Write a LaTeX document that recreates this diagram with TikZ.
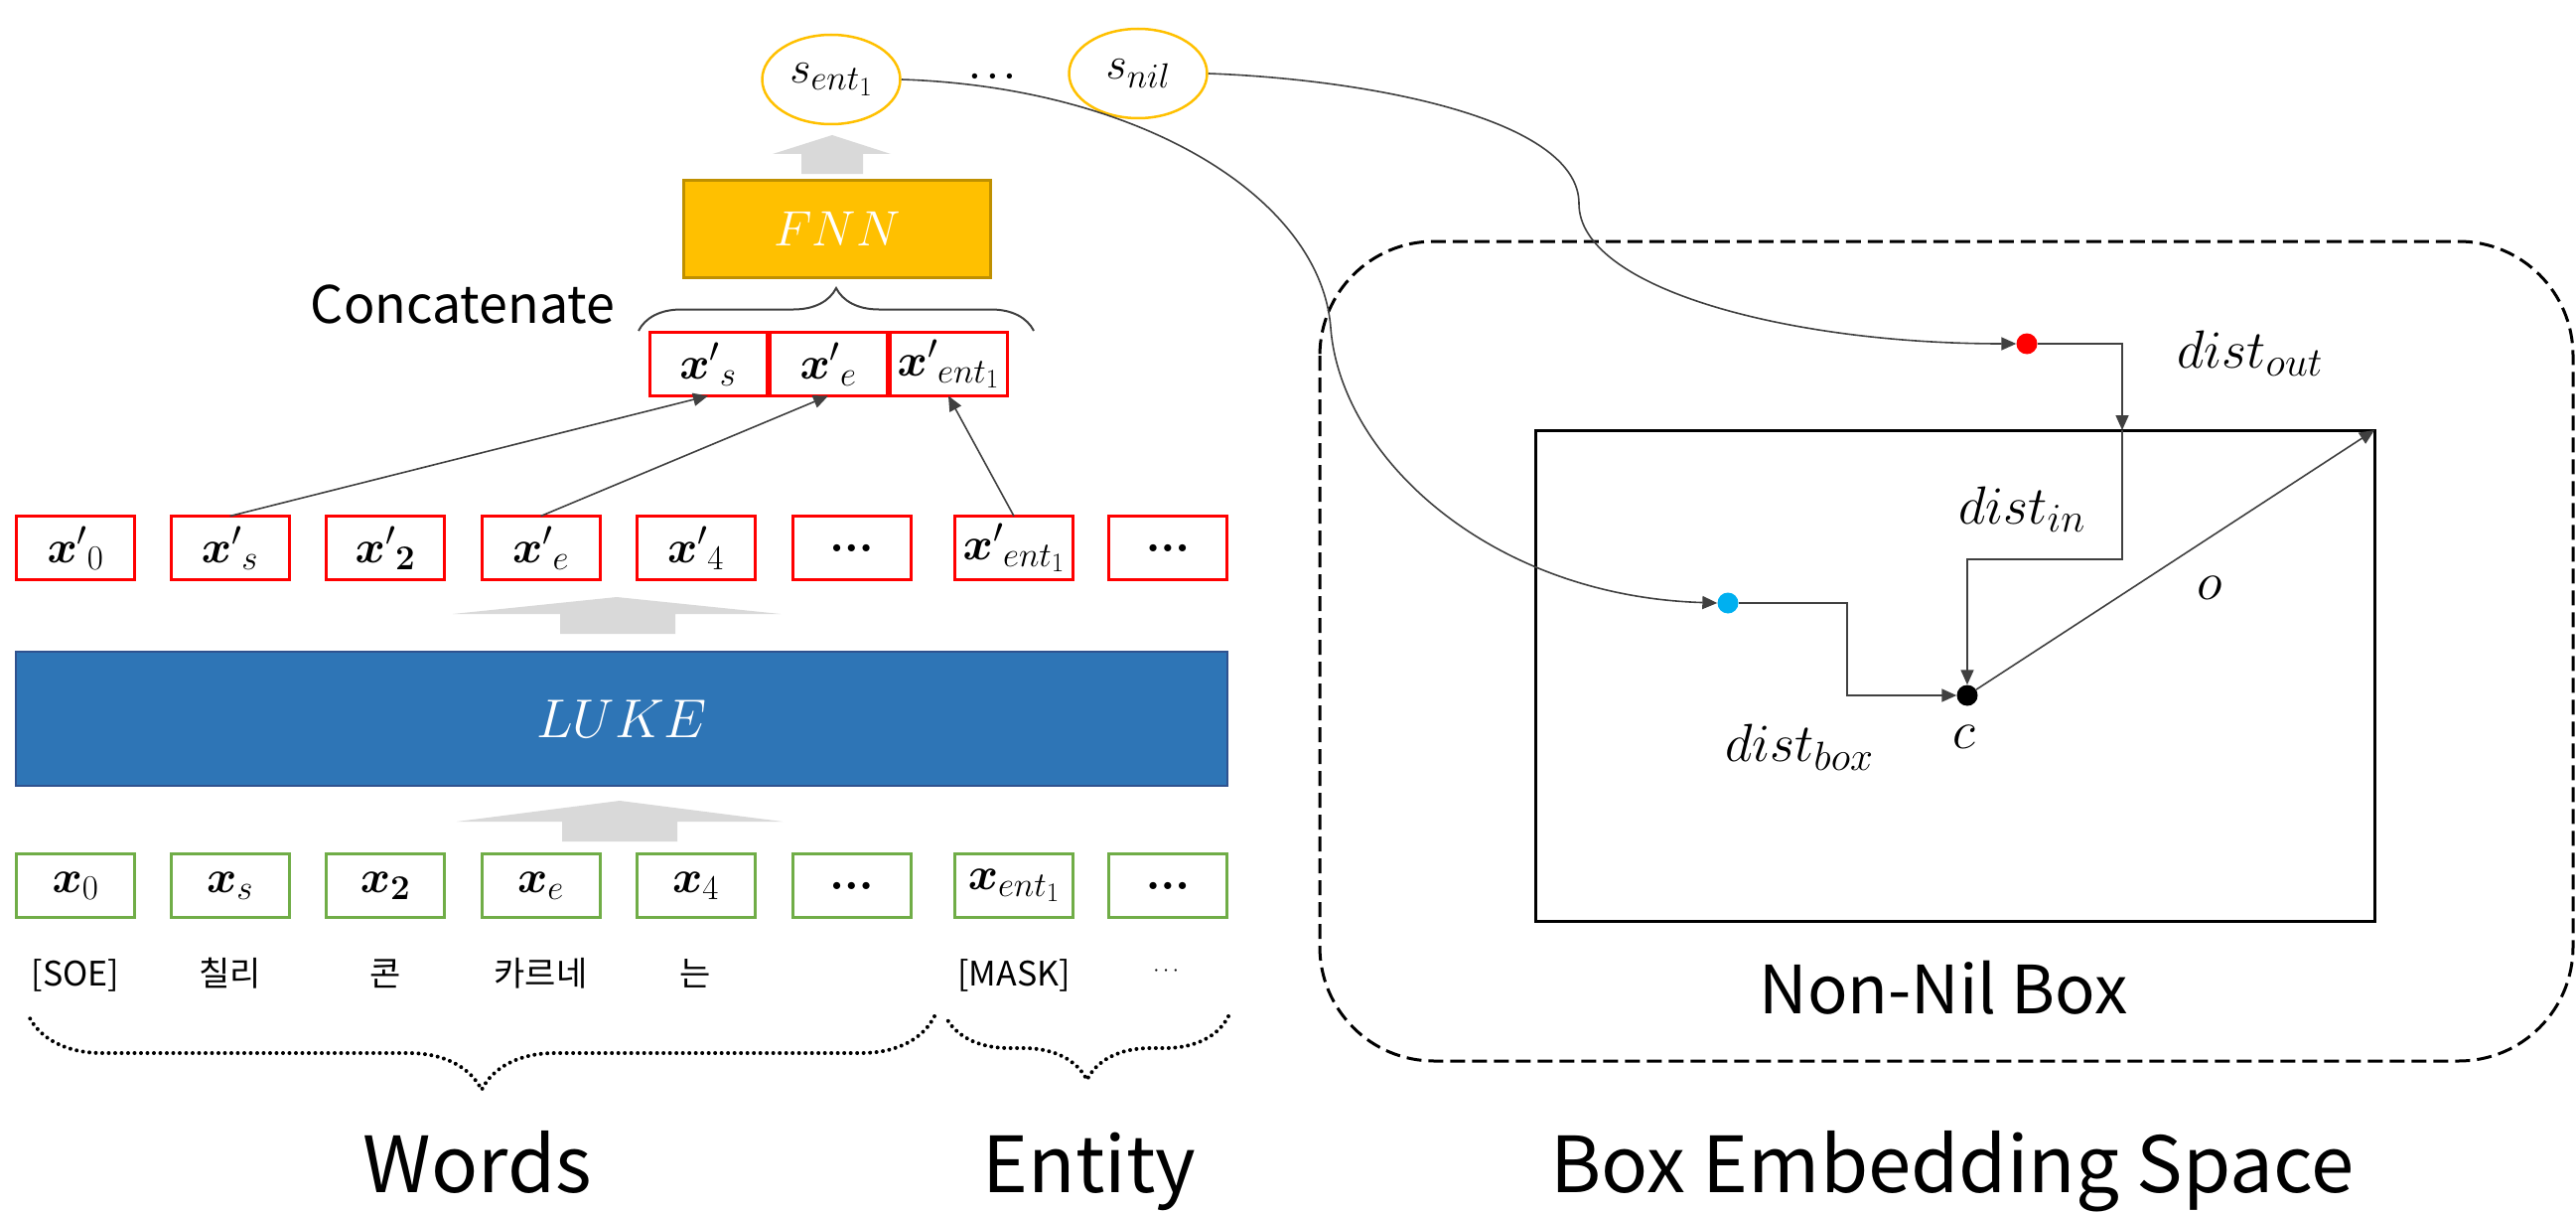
\RequirePackage{fix-cm}
\documentclass[tikz,border=0pt]{standalone}
\usepackage{amsmath}
\usepackage{bm}
\usepackage{fontspec}
\setmainfont{Noto Sans CJK KR}
\usetikzlibrary{arrows.meta,decorations.pathreplacing,shapes.geometric}

% larger script sizes for the token and distance labels
\DeclareMathSizes{46}{46}{35}{27}
\DeclareMathSizes{54}{54}{41}{31}

\definecolor{boxred}{HTML}{FF0000}
\definecolor{boxgreen}{HTML}{70AD47}
\definecolor{gold}{HTML}{FFC000}
\definecolor{golddark}{HTML}{BF9000}
\definecolor{lukeblue}{HTML}{2E75B6}
\definecolor{lukeedge}{HTML}{2F528F}
\definecolor{flowgray}{HTML}{D9D9D9}
\definecolor{linegray}{HTML}{404040}
\definecolor{dotblue}{HTML}{00B0F0}

\newcommand{\sizept}[1]{\fontsize{#1pt}{#1pt}\selectfont}

\begin{document}
\begin{tikzpicture}[x=1pt,y=-1pt,
  tok/.style={line width=3pt, minimum width=119pt, minimum height=64pt,
    inner sep=0pt, outer sep=0pt, font=\sizept{46}},
  outtok/.style={tok, draw=boxred},
  intok/.style={tok, draw=boxgreen},
  catcell/.style={draw=boxred, line width=3pt, minimum width=118pt,
    minimum height=64pt, inner sep=0pt, outer sep=0pt, font=\sizept{46}},
  score/.style={ellipse, draw=gold, line width=2.5pt, minimum width=139pt,
    minimum height=90pt, inner sep=0pt, font=\sizept{46}},
  tokword/.style={anchor=base, inner sep=0pt, font=\sizept{34}},
  bigcaption/.style={anchor=base, inner sep=0pt, font=\sizept{78}},
  conn/.style={draw=linegray, line width=1.6pt, -{Triangle[length=15pt,width=13pt]}},
  dotbrace/.style={decorate, line width=4pt, line cap=round,
    dash pattern=on 0pt off 6.5pt},
  mlabel/.style={inner sep=0pt, font=\sizept{54}},
  spot/.style={circle, inner sep=0pt, minimum size=21pt}
]
\useasboundingbox (0,0) rectangle (2594,1220);

% ---------- input tokens ----------
\node[intok] (i0)   at (76,891.5)   {$\bm{x}_0$};
\node[intok] (is)   at (231.5,891.5){$\bm{x}_s$};
\node[intok] (i2)   at (388,891.5)  {$\bm{x}_{\bm{2}}$};
\node[intok] (ie)   at (544.5,891.5){$\bm{x}_e$};
\node[intok] (i4)   at (700.5,891.5){$\bm{x}_4$};
\node[intok] (id1)  at (857.5,891.5){$\bm{...}$};
\node[intok] (ient) at (1021,891.5) {$\bm{x}_{ent_1}$};
\node[intok] (id2)  at (1176,891.5) {$\bm{...}$};

\node[tokword] (w0) at (76,992)   {[SOE]};
\node[tokword] (w1) at (231.5,992){칠리};
\node[tokword] (w2) at (388,992)  {콘};
\node[tokword] (w3) at (544.5,992){카르네};
\node[tokword] (w4) at (700.5,992){는};
\node[tokword] (w5) at (1021,992) {[MASK]};
\node[inner sep=0pt, font=\sizept{22}] (w6) at (1176,978) {$\cdots$};

% ---------- encoder ----------
\node[draw=lukeedge, fill=lukeblue, line width=2pt, minimum width=1220pt,
  minimum height=135pt, inner sep=0pt, text=white, font=\sizept{55}]
  (luke) at (626,723.5) {$LUKE$};

% block arrows
\fill[flowgray] (566,847) -- (566,827) -- (460,827) -- (624,806) -- (788,827)
  -- (682,827) -- (682,847) -- cycle;
\fill[flowgray] (564,638) -- (564,618) -- (456,618) -- (621,601) -- (786,618)
  -- (680,618) -- (680,638) -- cycle;
\fill[flowgray] (807,175) -- (807,155) -- (778,155) -- (838,136) -- (897,155)
  -- (869,155) -- (869,175) -- cycle;

% ---------- output tokens ----------
\node[outtok] (p0)   at (76,551.5)   {${\bm{x}'}_0$};
\node[outtok] (ps)   at (231.5,551.5){${\bm{x}'}_s$};
\node[outtok] (p2)   at (388,551.5)  {${\bm{x}'}_{\bm{2}}$};
\node[outtok] (pe)   at (544.5,551.5){${\bm{x}'}_e$};
\node[outtok] (p4)   at (700.5,551.5){${\bm{x}'}_4$};
\node[outtok] (pd1)  at (857.5,551.5){$\bm{...}$};
\node[outtok] (pent) at (1021,551.5) {${\bm{x}'}_{ent_1}$};
\node[outtok] (pd2)  at (1176,551.5) {$\bm{...}$};

% ---------- concatenation ----------
\node[catcell] (cs)   at (713,366.5) {${\bm{x}'}_s$};
\node[catcell] (ce)   at (834,366.5) {${\bm{x}'}_e$};
\node[catcell] (cent) at (955,366.5) {${\bm{x}'}_{ent_1}$};

\draw[conn] (ps.north) -- (cs.south);
\draw[conn] (pe.north) -- (ce.south);
\draw[conn] (pent.north) -- (cent.south);

\draw[draw=linegray, line width=2pt, decorate, decoration={brace, amplitude=43pt}]
  (643,333) -- (1041,333);
\node[anchor=base, inner sep=0pt, font=\sizept{52}] (concat) at (466,325) {Concatenate};

\node[draw=golddark, fill=gold, line width=3pt, minimum width=309pt,
  minimum height=98pt, inner sep=0pt, text=white, font=\sizept{50}]
  (fnn) at (843,230.5) {$FNN$};

% ---------- scores ----------
\node[score] (sent) at (837,80) {$s_{ent_1}$};
\node[score] (snil) at (1146,74) {$s_{nil}$};
\node[inner sep=0pt, font=\sizept{34}] (sdots) at (1003,77) {$\bm{\cdots}$};

% ---------- group braces ----------
\draw[dotbrace, decoration={brace, amplitude=74pt}] (941,1023) -- (29,1023);
\draw[dotbrace, decoration={brace, amplitude=64pt}] (1237,1023) -- (952,1023);
\node[bigcaption] (words)  at (481,1200)  {Words};
\node[bigcaption] (entity) at (1097,1200) {Entity};

% ---------- box embedding space ----------
\draw[line width=3pt, dash pattern=on 15pt off 7pt, rounded corners=115pt]
  (1329,243) rectangle (2591,1068);
\node[draw, line width=3pt, minimum width=845pt, minimum height=494pt,
  inner sep=0pt, outer sep=0pt] (nonnil) at (1968.5,680) {};
\node[anchor=base, inner sep=0pt, font=\sizept{67}] (nonnillab) at (1957,1020) {Non-Nil Box};
\node[bigcaption] (space) at (1966,1200) {Box Embedding Space};

\node[spot, fill=boxred] (rd) at (2041,346) {};
\node[spot, fill=dotblue] (bd) at (1740,607) {};
\node[spot, fill=black] (cd) at (1981,700) {};

\coordinate (q) at (2137,433);
\coordinate (bend) at (1981,563);
\coordinate (kb) at (1860,700);

\draw[conn] (snil.east) .. controls (1380,80) and (1590,120) .. (1590,205)
  .. controls (1590,290) and (1800,346) .. (rd.west);
\draw[conn] (sent.east) .. controls (1150,88) and (1330,200) .. (1340,330)
  .. controls (1350,460) and (1500,600) .. (bd.west);
\draw[conn] (rd.east) -| (q);
\draw[conn] (q) |- (bend) -- (cd.north);
\draw[conn] (bd.east) -| (kb) -- (cd.west);
\draw[conn] (cd) -- (nonnil.north east);

\node[mlabel, anchor=base west] (dout) at (2192,370) {$dist_{out}$};
\node[mlabel, anchor=base west] (din)  at (1972,527) {$dist_{in}$};
\node[mlabel, anchor=base west] (dbox) at (1737,766) {$dist_{box}$};
\node[mlabel, anchor=base] (clab) at (1978,753) {$c$};
\node[mlabel, anchor=base] (olab) at (2225,603) {$o$};
\end{tikzpicture}
\end{document}
